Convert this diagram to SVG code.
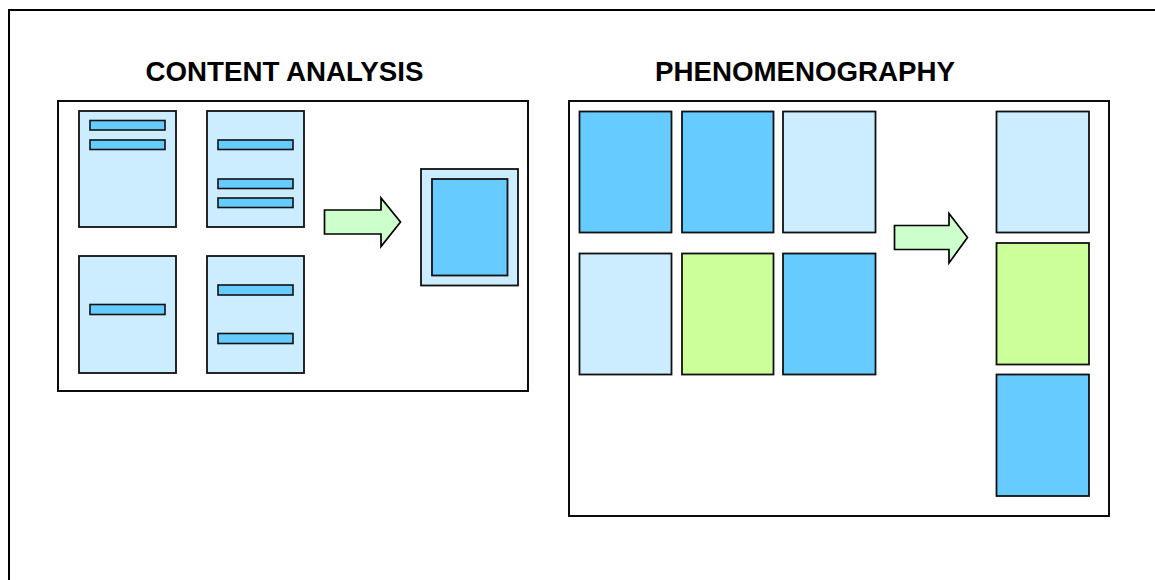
<svg xmlns="http://www.w3.org/2000/svg" width="1155" height="580" viewBox="0 0 1155 580">
  <style>
    .frame { fill: #ffffff; stroke: #000000; stroke-width: 2; }
    .panel { fill: #ffffff; stroke: #000000; stroke-width: 1.9; }
    .card { stroke: #111111; stroke-width: 1.8; }
    .pale { fill: #CCECFF; }
    .blue { fill: #66CCFF; }
    .lime { fill: #CCFF99; }
    .bar { fill: #66CCFF; stroke: #111111; stroke-width: 1.6; }
    .arrow { fill: #CCFFCC; stroke: #000000; stroke-width: 1.7; stroke-linejoin: miter; }
    .title { font-family: "Liberation Sans", Arial, sans-serif; font-weight: bold; font-size: 27.7px; fill: #000000; text-anchor: middle; }
  </style>

  <rect width="1155" height="580" fill="#ffffff"/>
  <!-- outer frame, runs off the right and bottom edges -->
  <rect class="frame" x="9" y="10" width="1160" height="590"/>

  <text class="title" x="284.5" y="80.5">CONTENT ANALYSIS</text>
  <text class="title" x="805" y="80.5">PHENOMENOGRAPHY</text>

  <!-- content analysis panel -->
  <g id="content-analysis">
    <rect class="panel" x="58" y="101" width="470" height="290"/>

    <g id="doc-1">
      <rect class="card pale" x="79" y="111" width="97" height="116"/>
      <rect class="bar" x="90" y="120.5" width="75" height="9.5"/>
      <rect class="bar" x="90" y="140" width="75" height="9.5"/>
    </g>
    <g id="doc-2">
      <rect class="card pale" x="207" y="111" width="97" height="116"/>
      <rect class="bar" x="218" y="140" width="75" height="9.5"/>
      <rect class="bar" x="218" y="179" width="75" height="9.5"/>
      <rect class="bar" x="218" y="198" width="75" height="9.5"/>
    </g>
    <g id="doc-3">
      <rect class="card pale" x="79" y="256" width="97" height="117"/>
      <rect class="bar" x="90" y="304.5" width="75" height="10"/>
    </g>
    <g id="doc-4">
      <rect class="card pale" x="207" y="256" width="97" height="117"/>
      <rect class="bar" x="218" y="285" width="75" height="10"/>
      <rect class="bar" x="218" y="333.5" width="75" height="10"/>
    </g>

    <g id="summary-doc">
      <rect class="card pale" x="421" y="169" width="97" height="116.5"/>
      <rect class="card blue" x="432" y="179" width="75.5" height="96.5"/>
    </g>
  </g>

  <!-- phenomenography panel -->
  <g id="phenomenography">
    <rect class="panel" x="569" y="101" width="540" height="415"/>

    <g id="tile-1"><rect class="card blue" x="579.5" y="111.5" width="92" height="121"/></g>
    <g id="tile-2"><rect class="card blue" x="682" y="111.5" width="91.5" height="121"/></g>
    <g id="tile-3"><rect class="card pale" x="783" y="111.5" width="92.5" height="121"/></g>
    <g id="tile-4"><rect class="card pale" x="579.5" y="253.5" width="92" height="121"/></g>
    <g id="tile-5"><rect class="card lime" x="682" y="253.5" width="91.5" height="121"/></g>
    <g id="tile-6"><rect class="card blue" x="783" y="253.5" width="92.5" height="121"/></g>

    <g id="category-1"><rect class="card pale" x="996.5" y="111.5" width="92.5" height="121"/></g>
    <g id="category-2"><rect class="card lime" x="996.5" y="243" width="92.5" height="121.5"/></g>
    <g id="category-3"><rect class="card blue" x="996.5" y="374.5" width="92.5" height="121.5"/></g>
  </g>

  <!-- transformation arrows -->
  <g id="connectors">
    <polygon class="arrow" points="324.5,210 381,210 381,198 400.5,222 381,246.5 381,234 324.5,234"/>
    <polygon class="arrow" points="894.5,225.5 949,225.5 949,213.5 967.5,237.5 949,263 949,249.5 894.5,249.5"/>
  </g>
</svg>
